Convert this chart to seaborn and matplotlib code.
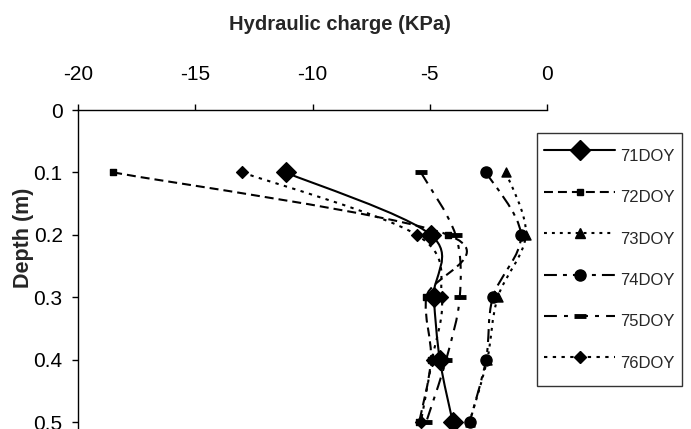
import matplotlib
matplotlib.use("Agg")
import numpy as np
import pandas as pd
import matplotlib.pyplot as plt
import seaborn as sns
from matplotlib import font_manager
from matplotlib.path import Path
from matplotlib.patches import PathPatch
from matplotlib.lines import Line2D

# values
depth = [0.1, 0.2, 0.3, 0.4, 0.5]
doy71 = [-11.15, -4.96, -4.83, -4.57, -4.02]
doy72 = [-18.5, -4.23, -5.15, -4.95, -5.45]
doy73 = [-1.75, -0.90, -2.10, -2.55, -3.30]
doy74 = [-2.60, -1.11, -2.31, -2.60, -3.30]
doy75 = [-5.38, -3.90, -3.72, -4.30, -5.15]
doy76 = [-13.0, -5.56, -4.49, -4.90, -5.38]
series_names = ["71DOY", "72DOY", "73DOY", "74DOY", "75DOY", "76DOY"]
x_ticks = [-20, -15, -10, -5, 0]
y_ticks = [0, 0.1, 0.2, 0.3, 0.4, 0.5]

df = pd.DataFrame({
    "depth": depth * 6,
    "charge": doy71 + doy72 + doy73 + doy74 + doy75 + doy76,
    "day": [n for n in series_names for _ in depth],
})

# line / marker styles (dash tuples are in linewidth units)
styles = {
    "71DOY": dict(ls="-", marker="D", ms=10, mew=1),
    "72DOY": dict(ls=(0, (4.3, 2.4)), marker="s", ms=5, mew=1),
    "73DOY": dict(ls=(0, (1.4, 2.4)), marker="^", ms=6.5, mew=1),
    "74DOY": dict(ls=(0, (6.2, 2.9, 1.9, 2.9)), marker="o", ms=8, mew=1),
    "75DOY": dict(ls=(0, (6.2, 3.4, 1.9, 3.4)), marker="_", ms=8, mew=3.5),
    "76DOY": dict(ls=(0, (1.6, 2.6)), marker="D", ms=6, mew=1),
}

names = {f.name for f in font_manager.fontManager.ttflist}
narrow = "Liberation Sans Narrow" if "Liberation Sans Narrow" in names else "Liberation Sans"

sns.set_style("white")
plt.rcParams["font.family"] = [narrow, "DejaVu Sans"]

W, H = 691, 429
fig = plt.figure(figsize=(W / 100, H / 100), dpi=100)
# axis box: x from -20 (px 78) to 0 (px 547), y=0 at px 110, 62.4 px per 0.1 m
ymax = 0.6
ax = fig.add_axes([78 / W, (H - 110 - 624 * ymax) / H, (547 - 78) / W, 624 * ymax / H])
ax.set_xlim(-20, 0)
ax.set_ylim(ymax, 0)

sx, sy = 23.45, 624.0  # px per data unit, used for screen-like smoothing


def smooth_path(xs, ys):
    # Excel-style smoothed line: cubic Bezier with Catmull-Rom control points
    p = np.column_stack([np.asarray(xs) * sx, np.asarray(ys) * sy])
    n = len(p)
    verts = [p[0]]
    codes = [Path.MOVETO]
    for i in range(n - 1):
        p_prev = p[i - 1] if i > 0 else p[i]
        p_next = p[i + 2] if i + 2 < n else p[i + 1]
        c1 = p[i] + (p[i + 1] - p_prev) / 6.0
        c2 = p[i + 1] - (p_next - p[i]) / 6.0
        verts += [c1, c2, p[i + 1]]
        codes += [Path.CURVE4] * 3
    verts = np.array(verts) / np.array([sx, sy])
    return Path(verts, codes)


handles = []
for name in series_names:
    st = styles[name]
    sub = df[df["day"] == name]
    patch = PathPatch(smooth_path(sub["charge"], sub["depth"]), fill=False,
                      edgecolor="black", lw=1.5, linestyle=st["ls"], capstyle="butt")
    ax.add_patch(patch)
    sns.scatterplot(data=sub, x="charge", y="depth", marker=st["marker"],
                    s=st["ms"] ** 2, color="black", edgecolor="black",
                    linewidth=st["mew"], ax=ax, legend=False, zorder=3)
    handles.append(Line2D([], [], color="black", lw=1.5, linestyle=st["ls"],
                          marker=st["marker"], markersize=st["ms"],
                          markeredgewidth=st["mew"], dash_capstyle="butt"))

# axes: x on top, only top and left lines
ax.xaxis.tick_top()
ax.xaxis.set_label_position("top")
ax.set_xticks(x_ticks)
ax.set_xticklabels([str(t) for t in x_ticks])
ax.set_yticks(y_ticks)
ax.set_yticklabels(["0", "0.1", "0.2", "0.3", "0.4", "0.5"])
for s in ["right", "bottom"]:
    ax.spines[s].set_visible(False)
for s in ["top", "left"]:
    ax.spines[s].set_color("black")
    ax.spines[s].set_linewidth(1.0)
ax.tick_params(axis="x", which="major", top=True, bottom=False, direction="out",
               length=4, width=1, pad=15, labelsize=15, colors="black")
ax.tick_params(axis="y", which="major", left=True, direction="out",
               length=4, width=1, pad=7, labelsize=15, colors="black")
ax.set_xlabel("")
ax.set_ylabel("")

fig.text(340 / W, 1 - 25 / H, "Hydraulic charge (KPa)", ha="center", va="center",
         fontsize=14.5, fontweight="bold")
fig.text(23 / W, 1 - 238 / H, "Depth (m)", ha="center", va="center", rotation=90,
         fontsize=15.5, fontweight="bold", family=["Liberation Sans", "DejaVu Sans"])

leg = ax.legend(handles, series_names, loc="upper left",
                bbox_to_anchor=(537 / W, 1 - 133 / H), bbox_transform=fig.transFigure,
                frameon=True, fancybox=False, fontsize=12, handlelength=4.3,
                handleheight=2.6, handletextpad=0.3, labelspacing=0.55,
                borderpad=0.4, borderaxespad=0, numpoints=1)
leg.get_frame().set_edgecolor("black")
leg.get_frame().set_linewidth(1.0)

fig.savefig("out.png", dpi=100)
